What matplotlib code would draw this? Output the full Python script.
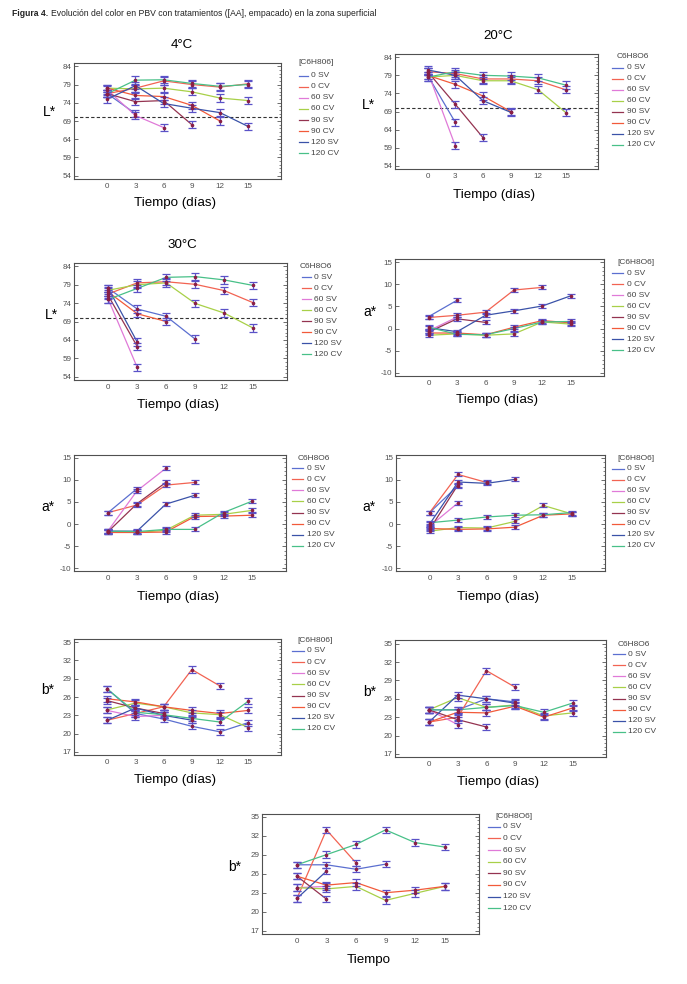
import numpy as np
import matplotlib
matplotlib.use("Agg")
import matplotlib.pyplot as plt
from matplotlib.lines import Line2D
from matplotlib.ticker import AutoMinorLocator

plt.rcParams['font.family'] = ['Liberation Sans', 'DejaVu Sans']
plt.rcParams['axes.unicode_minus'] = False

nan = np.nan
DAYS = [0, 3, 6, 9, 12, 15]
SERIES = ["0 SV", "0 CV", "60 SV", "60 CV", "90 SV", "90 CV", "120 SV", "120 CV"]
COLORS = ["#5b6fd0", "#f26352", "#e07ad8", "#a8d048", "#943350", "#f25a3a", "#3a52a8", "#48c088"]

# ---- L* 4 C
L4_0SV = [76.5, 71.0]
L4_0CV = [76.5, 78.0, 80.0, 79.0, 78.3, 79.2]
L4_60SV = [77.5, 70.5, 67.2]
L4_60CV = [78.0, 77.8, 78.0, 77.0, 75.3, 74.6]
L4_90SV = [76.5, 74.3, 74.6, 68.0]
L4_90CV = [78.0, 76.0, 75.7, 73.3, 69.0]
L4_120SV = [75.0, 78.7, 73.8, 72.5, 71.3, 67.5]
L4_120CV = [76.5, 80.2, 80.3, 79.3, 78.5, 79.0]
# ---- L* 20 C
L20_0SV = [79.0, 66.0]
L20_0CV = [80.0, 79.5, 78.0, 78.0, 77.5, 75.0]
L20_60SV = [80.0, 59.5]
L20_60CV = [78.5, 79.0, 77.5, 77.5, 75.0, 68.7]
L20_90SV = [80.0, 71.0, 61.8]
L20_90CV = [79.0, 76.5, 73.3, 69.0]
L20_120SV = [80.5, 79.0, 72.0, 68.8]
L20_120CV = [78.5, 80.0, 79.0, 78.8, 78.3, 76.3]
# ---- L* 30 C
L30_0SV = [78.0, 72.4, 70.4, 64.2]
L30_0CV = [76.5, 79.5, 79.8, 79.1, 77.4, 74.1]
L30_60SV = [75.0, 56.5]
L30_60CV = [77.5, 79.0, 79.5, 73.9, 71.3, 67.2]
L30_90SV = [76.0, 62.2]
L30_90CV = [77.0, 71.1, 69.0]
L30_120SV = [78.0, 63.4]
L30_120CV = [75.0, 78.0, 81.0, 81.2, 80.3, 78.8]
# ---- a* (panel right, row 2)
A1_0SV = [2.7, 6.4]
A1_0CV = [2.5, 3.0, 3.7, 8.7, 9.3]
A1_60SV = [-0.5, 2.6]
A1_60CV = [-1.5, -1.2, -1.5, -1.2, 1.5, 1.0]
A1_90SV = [-0.8, 2.2, 1.4]
A1_90CV = [-1.0, -1.0, -1.4, 0.3, 1.8, 1.3]
A1_120SV = [0.2, -0.7, 3.0, 4.0, 5.1, 7.4]
A1_120CV = [0.3, -1.3, -1.4, 0.0, 1.5, 1.6]
# ---- a* (panel left, row 3)
A2_0SV = [2.6, 8.0]
A2_0CV = [2.6, 4.3, 8.8, 9.4]
A2_60SV = [-1.5, 7.5, 12.6]
A2_60CV = [-1.8, -1.9, -1.4, 2.0, 2.2, 3.1]
A2_90SV = [-1.7, 4.6, 9.4]
A2_90CV = [-1.9, -1.9, -1.8, 1.7, 1.8, 2.0]
A2_120SV = [-1.6, -1.6, 4.5, 6.5]
A2_120CV = [-1.6, -1.7, -1.2, -1.2, 2.6, 5.2]
# ---- a* (panel right, row 3)
A3_0SV = [2.6, 8.7]
A3_0CV = [2.6, 11.2, 9.4]
A3_60SV = [-0.5, 4.8]
A3_60CV = [-1.6, -0.8, -0.9, 0.6, 4.2, 2.3]
A3_90SV = [-1.2, 8.9]
A3_90CV = [-1.0, -1.2, -1.1, -0.7, 2.0, 2.3]
A3_120SV = [0.0, 9.5, 9.2, 10.1]
A3_120CV = [0.3, 0.9, 1.6, 2.0, 2.1, 2.6]
# ---- b* (panel left, row 4)
B1_0SV = [27.3, 23.3, 22.4, 21.2, 20.3, 21.8]
B1_0CV = [22.2, 23.3, 24.4, 30.5, 27.8]
B1_60SV = [23.8, 22.8, 23.0]
B1_60CV = [23.9, 25.0, 24.4, 23.4, 23.1, 21.0]
B1_90SV = [25.4, 24.2, 23.3]
B1_90CV = [25.7, 25.2, 24.4, 23.8, 23.3, 23.8]
B1_120SV = [22.2, 24.2, 23.0, 22.2]
B1_120CV = [27.3, 23.5, 23.1, 22.5, 21.9, 25.3]
# ---- b* (panel right, row 4)
B2_0SV = [24.2, 24.2, 26.0, 25.5]
B2_0CV = [22.2, 23.0, 30.6, 27.9]
B2_60SV = [24.2, 21.8]
B2_60CV = [24.2, 26.2, 24.6, 25.0, 23.2, 23.7]
B2_90SV = [24.2, 22.6, 21.4]
B2_90CV = [22.2, 23.8, 23.7, 24.8, 23.0, 24.5]
B2_120SV = [22.2, 26.6, 26.0, 25.3]
B2_120CV = [24.2, 24.2, 24.6, 24.9, 23.8, 25.3]
# ---- b* (bottom panel)
B3_0SV = [27.4, 27.4, 26.7, 27.5]
B3_0CV = [22.1, 32.9, 27.7]
B3_60SV = [23.8, 24.0]
B3_60CV = [23.8, 23.6, 24.0, 21.8, 22.9, 24.0]
B3_90SV = [25.6, 22.0]
B3_90CV = [25.6, 24.2, 24.6, 23.0, 23.4, 24.0]
B3_120SV = [22.1, 26.4]
B3_120CV = [27.4, 29.0, 30.6, 32.9, 30.9, 30.2]

ERR_L = 1.0
ERR_A = 0.45
ERR_B = 0.5

L_TICKS = [54, 59, 64, 69, 74, 79, 84]
A_TICKS = [-10, -5, 0, 5, 10, 15]
B_TICKS = [17, 20, 23, 26, 29, 32, 35]

W, H = 687, 984
fig = plt.figure(figsize=(W / 100, H / 100), dpi=100)


def fx(x):
    return x / W


def fy(y):
    return 1 - y / H


panels = [
    dict(box=(74, 63, 281, 179), data=[L4_0SV, L4_0CV, L4_60SV, L4_60CV, L4_90SV, L4_90CV, L4_120SV, L4_120CV],
         err=ERR_L, ylim=(53.1, 84.9), yt=L_TICKS, yl="L*", ylp=(49, 112), title="4°C", tp=(182, 45),
         hdr="[C6H806]", hp=(298, 63), lx=(299, 308, 311), ly=(75.7, 153.3), dash=70, xl="Tiempo (días)", xly=203),
    dict(box=(395, 54, 598, 169), data=[L20_0SV, L20_0CV, L20_60SV, L20_60CV, L20_90SV, L20_90CV, L20_120SV, L20_120CV],
         err=ERR_L, ylim=(53.1, 84.9), yt=L_TICKS, yl="L*", ylp=(368, 105), title="20°C", tp=(498, 36),
         hdr="C6H8O6", hp=(617, 57), lx=(612, 623, 627), ly=(67.7, 145), dash=70, xl="Tiempo (días)", xly=195),
    dict(box=(74, 263, 287, 380), data=[L30_0SV, L30_0CV, L30_60SV, L30_60CV, L30_90SV, L30_90CV, L30_120SV, L30_120CV],
         err=ERR_L, ylim=(53.1, 84.9), yt=L_TICKS, yl="L*", ylp=(51, 315), title="30°C", tp=(182, 245),
         hdr="C6H8O6", hp=(300, 267), lx=(302, 311, 314), ly=(277.3, 354), dash=70, xl="Tiempo (días)", xly=405),
    dict(box=(395, 259, 604, 376), data=[A1_0SV, A1_0CV, A1_60SV, A1_60CV, A1_90SV, A1_90CV, A1_120SV, A1_120CV],
         err=ERR_A, ylim=(-10.7, 15.7), yt=A_TICKS, yl="a*", ylp=(370, 312), title=None, tp=None,
         hdr="[C6H8O6]", hp=(617, 262), lx=(612, 623, 627), ly=(273.3, 350), dash=None, xl="Tiempo (días)", xly=400),
    dict(box=(74, 455, 286, 571), data=[A2_0SV, A2_0CV, A2_60SV, A2_60CV, A2_90SV, A2_90CV, A2_120SV, A2_120CV],
         err=ERR_A, ylim=(-10.6, 15.6), yt=A_TICKS, yl="a*", ylp=(48, 507), title=None, tp=None,
         hdr="C6H8O6", hp=(298, 458), lx=(292, 303, 307), ly=(468.3, 545.7), dash=None, xl="Tiempo (días)", xly=597),
    dict(box=(396, 455, 605, 571), data=[A3_0SV, A3_0CV, A3_60SV, A3_60CV, A3_90SV, A3_90CV, A3_120SV, A3_120CV],
         err=ERR_A, ylim=(-10.6, 15.6), yt=A_TICKS, yl="a*", ylp=(369, 507), title=None, tp=None,
         hdr="[C6H8O6]", hp=(617, 458), lx=(612, 624, 627), ly=(469, 545.7), dash=None, xl="Tiempo (días)", xly=597),
    dict(box=(74, 639, 281, 755), data=[B1_0SV, B1_0CV, B1_60SV, B1_60CV, B1_90SV, B1_90CV, B1_120SV, B1_120CV],
         err=ERR_B, ylim=(16.5, 35.5), yt=B_TICKS, yl="b*", ylp=(48, 690), title=None, tp=None,
         hdr="[C6H806]", hp=(297, 640), lx=(292, 304, 307), ly=(651, 729), dash=None, xl="Tiempo (días)", xly=780),
    dict(box=(395, 640, 606, 757), data=[B2_0SV, B2_0CV, B2_60SV, B2_60CV, B2_90SV, B2_90CV, B2_120SV, B2_120CV],
         err=ERR_B, ylim=(16.5, 35.6), yt=B_TICKS, yl="b*", ylp=(370, 692), title=None, tp=None,
         hdr="C6H8O6", hp=(618, 644), lx=(613, 625, 628), ly=(654.3, 731.7), dash=None, xl="Tiempo (días)", xly=782),
    dict(box=(262, 814, 479, 934), data=[B3_0SV, B3_0CV, B3_60SV, B3_60CV, B3_90SV, B3_90CV, B3_120SV, B3_120CV],
         err=ERR_B, ylim=(16.5, 35.4), yt=B_TICKS, yl="b*", ylp=(235, 867), title=None, tp=None,
         hdr="[C6H8O6]", hp=(495, 816), lx=(488, 500, 503), ly=(826.7, 908.3), dash=None, xl="Tiempo", xly=960),
]

ERRCOL = "#5a52c8"
TICKCOL = "#505050"

for p in panels:
    l, t, r, b = p["box"]
    ax = fig.add_axes([fx(l), fy(b), (r - l) / W, (b - t) / H])
    for name, col, vals in zip(SERIES, COLORS, p["data"]):
        xs = DAYS[:len(vals)]
        ax.plot(xs, vals, color=col, lw=0.9, zorder=2)
    for name, col, vals in zip(SERIES, COLORS, p["data"]):
        xs = DAYS[:len(vals)]
        ax.errorbar(xs, vals, yerr=p["err"], fmt="none", ecolor=ERRCOL, elinewidth=0.9,
                    capsize=2.6, capthick=0.9, zorder=3)
        ax.plot(xs, vals, ls="none", marker="o", ms=1.6, color="#8a1f45", zorder=4)
    if p["dash"] is not None:
        ax.axhline(p["dash"], color="#333333", lw=0.8, ls=(0, (3, 2)), zorder=1)
    ax.set_xlim(-3.55, 18.5)
    ax.set_ylim(*p["ylim"])
    ax.set_xticks(DAYS)
    ax.set_xticklabels([str(d) for d in DAYS])
    ax.set_yticks(p["yt"])
    ax.set_yticklabels([str(v) for v in p["yt"]])
    ax.yaxis.set_minor_locator(AutoMinorLocator(5))
    ax.tick_params(axis="x", length=0, pad=3, labelsize=5.8, labelcolor=TICKCOL)
    ax.tick_params(axis="y", which="major", direction="in", length=3, width=0.6, pad=2,
                   labelsize=5.8, labelcolor=TICKCOL, right=True, color="#555555")
    ax.tick_params(axis="y", which="minor", direction="in", length=1.8, width=0.5, right=True,
                   left=False, color="#555555")
    for s in ax.spines.values():
        s.set_color("#505050")
        s.set_linewidth(0.8)
    # labels
    fig.text(fx(p["ylp"][0]), fy(p["ylp"][1]), p["yl"], ha="center", va="center", fontsize=10)
    fig.text(fx((l + r) / 2 - 2), fy(p["xly"]), p["xl"], ha="center", va="center", fontsize=9.6)
    if p["title"]:
        fig.text(fx(p["tp"][0]), fy(p["tp"][1]), p["title"], ha="center", va="center", fontsize=9.6)
    # legend
    fig.text(fx(p["hp"][0]), fy(p["hp"][1]), p["hdr"], ha="left", va="center", fontsize=6.0, color="#444444")
    x0, x1, xt = p["lx"]
    y0, y1 = p["ly"]
    for i, (name, col) in enumerate(zip(SERIES, COLORS)):
        yy = y0 + (y1 - y0) * i / 7
        fig.add_artist(Line2D([fx(x0), fx(x1)], [fy(yy), fy(yy)], color=col, lw=0.9,
                              transform=fig.transFigure))
        fig.text(fx(xt), fy(yy), name, ha="left", va="center", fontsize=6.0, color="#444444")

t1 = fig.text(fx(12), fy(13), "Figura 4.", ha="left", va="center", fontsize=6.2, fontweight="bold",
              color="#222222")
renderer = fig.canvas.get_renderer()
bb = t1.get_window_extent(renderer=renderer)
fig.text(fx(bb.x1 + 2.5), fy(13), "Evolución del color en PBV con tratamientos ([AA], empacado) en la zona superficial",
         ha="left", va="center", fontsize=6.2, color="#222222")

fig.savefig("out.png", dpi=100)
